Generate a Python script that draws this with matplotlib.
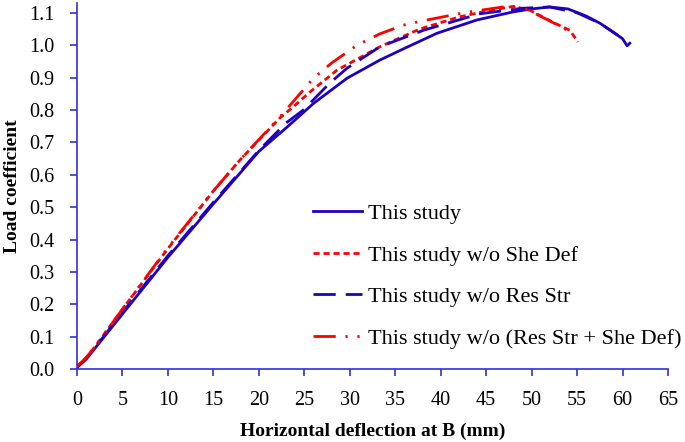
import matplotlib
matplotlib.use("Agg")
import matplotlib.pyplot as plt
from matplotlib.ticker import MultipleLocator, FormatStrFormatter

plt.rcParams['font.family'] = ['Liberation Serif', 'DejaVu Serif']

# This study
x_full = [0, 1, 2, 5, 10, 15, 20, 23.1, 26, 29.7, 33.3, 36, 39.6, 44, 48, 50, 52, 54, 56, 57.5, 59, 60, 60.5, 60.8]
y_full = [0.005, 0.03, 0.065, 0.17, 0.345, 0.51, 0.672, 0.747, 0.82, 0.898, 0.954, 0.99, 1.037, 1.078, 1.103, 1.112, 1.118, 1.112, 1.09, 1.068, 1.04, 1.02, 0.998, 1.006]

# This study w/o She Def
x_noshe = [0, 1, 2, 5, 10, 15, 18, 22.3, 23.8, 25.6, 28.6, 33.3, 37.7, 42, 45, 48, 49.8, 52.4, 54.2, 55.1]
y_noshe = [0.008, 0.035, 0.07, 0.185, 0.372, 0.55, 0.648, 0.775, 0.81, 0.855, 0.923, 0.995, 1.05, 1.087, 1.105, 1.12, 1.108, 1.07, 1.046, 1.01]

# This study w/o Res Str
x_nores = [0, 1, 2, 5, 10, 15, 20, 23, 24.9, 27.8, 29.7, 33.3, 38.1, 44.3, 49, 52, 55, 57.5, 59.5]
y_nores = [0.005, 0.032, 0.067, 0.175, 0.35, 0.515, 0.675, 0.76, 0.80, 0.883, 0.929, 0.995, 1.046, 1.097, 1.114, 1.118, 1.10, 1.068, 1.03]

# This study w/o (Res Str + She Def)
x_none = [0, 1, 2, 5, 10, 15, 18, 22.3, 26, 28, 30.8, 33.3, 35.9, 38, 42.5, 47.3, 49.5, 52, 54]
y_none = [0.008, 0.035, 0.07, 0.185, 0.375, 0.55, 0.648, 0.778, 0.898, 0.945, 1.0, 1.035, 1.062, 1.075, 1.10, 1.12, 1.11, 1.075, 1.045]

labels = ['This study', 'This study w/o She Def', 'This study w/o Res Str',
          'This study w/o (Res Str + She Def)']

blue = '#2000C0'
red = '#FF0000'
axcol = '#3030D8'

fig = plt.figure(figsize=(6.85, 4.42), dpi=100)
ax = fig.add_axes([0.1124, 0.165, 0.8628, 0.828])

ax.plot(x_full, y_full, color=blue, lw=2.0, label=labels[0])
ax.plot(x_noshe, y_noshe, color=red, lw=2.0, dashes=(2.2, 1.4), label=labels[1])
ax.plot(x_nores, y_nores, color=blue, lw=2.0, dashes=(8, 3.6), label=labels[2])
ax.plot(x_none, y_none, color=red, lw=2.0, dashes=(8, 3.5, 0.8, 3.5, 0.8, 3.5), label=labels[3])

ax.set_xlim(0, 65)
ax.set_ylim(0, 1.13)
ax.xaxis.set_major_locator(MultipleLocator(5))
ax.yaxis.set_major_locator(MultipleLocator(0.1))
ax.yaxis.set_major_formatter(FormatStrFormatter('%.1f'))

for s in ['top', 'right']:
    ax.spines[s].set_visible(False)
for s in ['left', 'bottom']:
    ax.spines[s].set_color(axcol)
    ax.spines[s].set_linewidth(1.2)
ax.tick_params(axis='both', direction='out', length=5, width=1.2, color=axcol,
               labelsize=14.5, labelcolor='black')
ax.tick_params(axis='x', pad=11)
ax.tick_params(axis='y', pad=11)

ax.set_xlabel('Horizontal deflection at B (mm)', fontsize=14, fontweight='bold', labelpad=9)
ax.set_ylabel('Load coefficient', fontsize=14, fontweight='bold', labelpad=6)

ax.legend(loc='center left', bbox_to_anchor=(0.399, 0.254), frameon=False,
          fontsize=16, handlelength=2.2, handletextpad=0.27, labelspacing=0.95,
          borderpad=0, borderaxespad=0)

fig.savefig('out.png', dpi=100)
